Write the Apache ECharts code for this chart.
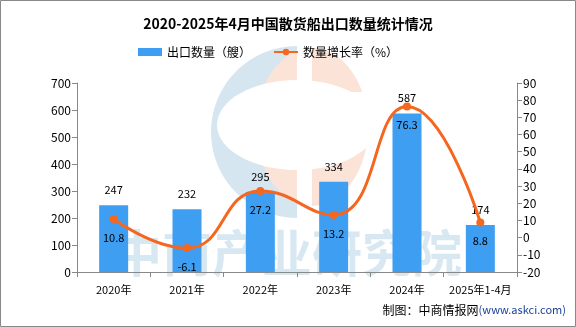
<!DOCTYPE html>
<html><head><meta charset="utf-8">
<script src="https://cdn.jsdelivr.net/npm/echarts@6/dist/echarts.min.js"></script>
<style>html,body{margin:0;padding:0;background:#fff}#c{width:576px;height:327px}</style>
</head><body><div id="c"></div>
<script>
const categories = ['2020年','2021年','2022年','2023年','2024年','2025年1-4月'];
const exportCount = [247, 232, 295, 334, 587, 174];
const growthRate = [10.8, -6.1, 27.2, 13.2, 76.3, 8.8];
const leftTicks = [0, 700, 100];
const rightTicks = [-20, 90, 10];

const font = '"Noto Sans CJK SC", "DejaVu Sans", sans-serif';
const chart = echarts.init(document.getElementById('c'));
chart.setOption({
  backgroundColor: '#fff',
  animation: false,
  title: {
    text: '2020-2025年4月中国散货船出口数量统计情况',
    left: 'center', top: 12,
    textStyle: { fontSize: 14, fontWeight: 'bold', color: '#000', fontFamily: font }
  },
  legend: {
    top: 41, left: 133, itemGap: 22,
    itemWidth: 24, itemHeight: 8,
    textStyle: { fontSize: 12, color: '#000', fontFamily: font },
    data: [
      { name: '出口数量（艘）', icon: 'rect' },
      { name: '数量增长率（%）' }
    ]
  },
  graphic: [
    { type: 'sector', z: -2, shape: { cx: 297, cy: 132, r: 86, r0: 0, startAngle: Math.PI/2, endAngle: Math.PI*1.5 }, style: { fill: '#d6e6f0' }, silent: true },
    { type: 'ellipse', z: -1, shape: { cx: 297, cy: 125, rx: 80, ry: 45 }, style: { fill: '#fff' }, silent: true },
    { type: 'rect', z: -1, shape: { x: 297, y: 40, width: 15, height: 180 }, style: { fill: '#fff' }, silent: true },
    { type: 'ellipse', z: -2, shape: { cx: 312, cy: 127, rx: 56, ry: 79 }, style: { fill: '#fbe3d8' }, silent: true },
    { type: 'rect', z: -1, shape: { x: 312, y: 92, width: 70, height: 10 }, style: { fill: '#fff' }, silent: true },
    { type: 'text', z: -1, left: 112, top: 228, style: { text: '中商产业研究院', fontSize: 50, fontWeight: 'bold', fill: 'rgba(200,222,236,0.7)', fontFamily: font }, silent: true },
    { type: 'rect', shape: { x: 0.5, y: 0.5, width: 575, height: 326 }, style: { fill: 'none', stroke: '#888', lineWidth: 1 }, silent: true },
    { type: 'text', right: 10, top: 304, style: {
        text: '{a|制图：中商情报网}{b|(www.askci.com)}',
        rich: { a: { fontSize: 12, fill: '#000', fontFamily: font }, b: { fontSize: 11, fill: '#1a3f9a', fontFamily: font } }
      } }
  ],
  grid: { left: 77, right: 59, top: 83, bottom: 55 },
  xAxis: {
    type: 'category', data: categories,
    axisLine: { lineStyle: { color: '#888' } },
    axisTick: { show: true, alignWithLabel: false, length: 5, lineStyle: { color: '#888' } },
    axisLabel: { color: '#000', fontSize: 11, margin: 12, fontFamily: font, interval: 0 }
  },
  yAxis: [
    { type: 'value', min: leftTicks[0], max: leftTicks[1], interval: leftTicks[2],
      splitLine: { show: false },
      axisLine: { show: true, lineStyle: { color: '#888' } },
      axisTick: { show: true, length: 5, lineStyle: { color: '#888' } },
      axisLabel: { color: '#000', fontSize: 12, margin: 6, fontFamily: font } },
    { type: 'value', min: rightTicks[0], max: rightTicks[1], interval: rightTicks[2],
      splitLine: { show: false },
      axisLine: { show: true, lineStyle: { color: '#888' } },
      axisTick: { show: true, length: 5, lineStyle: { color: '#888' } },
      axisLabel: { color: '#000', fontSize: 12, margin: 6, fontFamily: font } }
  ],
  series: [
    { name: '出口数量（艘）', type: 'bar', data: exportCount, barWidth: 29,
      itemStyle: { color: '#3e9ef2' },
      label: { show: true, position: 'top', distance: 10, color: '#000', fontSize: 11, fontFamily: font } },
    { name: '数量增长率（%）', type: 'line', yAxisIndex: 1, data: growthRate, smooth: 0.5,
      symbol: 'circle', symbolSize: 8,
      lineStyle: { color: '#f5661f', width: 3 },
      itemStyle: { color: '#f5661f' },
      label: { show: true, position: 'bottom', distance: 9, color: '#000', fontSize: 11, fontFamily: font } }
  ]
});
</script></body></html>
